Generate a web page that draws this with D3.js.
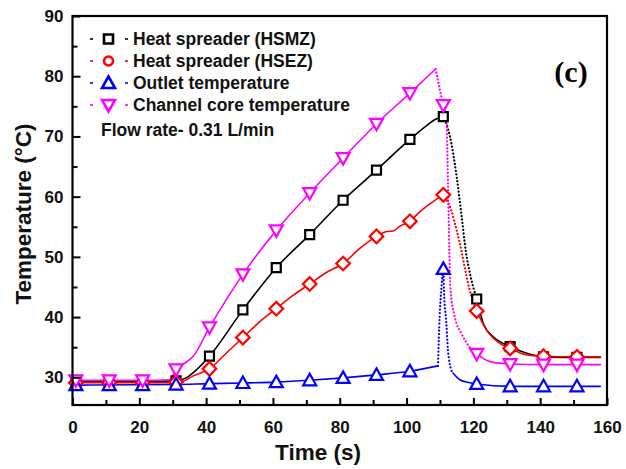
<!DOCTYPE html>
<html>
<head>
<meta charset="utf-8">
<script src="https://cdn.jsdelivr.net/npm/d3@7"></script>
<style>
  body { margin: 0; background: #fff; }
  svg text { font-family: "Liberation Sans", Arial, sans-serif; }
</style>
</head>
<body>
<svg id="chart" width="626" height="469"></svg>
<script>
// marker times (s)
const markerTimes = [1, 11, 21, 31, 41, 51, 61, 71, 81, 91, 101, 111, 121, 131, 141, 151];
// marker values (deg C)
const hsmzMarks = [29.3, 29.3, 29.3, 29.4, 33.5, 41.2, 48.2, 53.7, 59.4, 64.4, 69.5, 73.3, 43.0, 35.1, 33.4, 33.3];
const hsezMarks = [29.1, 29.1, 29.1, 29.2, 31.4, 36.6, 41.4, 45.5, 48.9, 53.4, 55.9, 60.3, 41.0, 34.8, 33.5, 33.4];
const outletMarks = [28.7, 28.7, 28.7, 28.8, 28.95, 29.05, 29.2, 29.5, 29.9, 30.4, 31.0, 48.0, 28.9, 28.5, 28.5, 28.5];
const coreMarks = [29.5, 29.5, 29.5, 31.3, 38.3, 47.1, 54.4, 60.6, 66.4, 72.1, 77.2, 75.2, 33.9, 32.2, 32.1, 32.1];

// traces: heating (solid), drop (dotted), tail (solid)
const hsmzHeat = [[0,29.3],[11,29.3],[21,29.3],[31,29.4],[34,29.9],[37,31.2],[41,33.5],[51,41.2],[61,48.2],[71,53.7],[81,59.4],[91,64.4],[101,69.5],[106,71.8],[108.5,72.8],[111,73.3]];
const hsmzDrop = [[111,73.3],[113,70],[115,63.3],[116.5,56.7],[117.7,51.1],[119,47.2],[121,43.0]];
const hsmzTail = [[121,43.0],[123,38.9],[126,36.7],[129,35.6],[131,35.1],[136,34.0],[141,33.4],[151,33.3],[158,33.3]];

const hsezHeat = [[0,29.1],[31,29.1],[33,29.3],[36,30.2],[41,31.4],[46,34.0],[51,36.6],[56,39.2],[61,41.4],[66,43.6],[71,45.5],[76,47.4],[81,48.9],[86,51.4],[91,53.4],[94,54.2],[96,54.3],[98,55.1],[101,55.9],[104,57.5],[107,58.8],[109,59.6],[111,60.3]];
const hsezDrop = [[111,60.3],[113.4,57.7],[115,54.4],[116.4,51.1],[117.4,48.3],[118.9,44.5],[121,41.0]];
const hsezTail = [[121,41.0],[124,37.8],[128,35.6],[131,34.8],[136,33.7],[141,33.5],[151,33.4],[158,33.4]];

const outletHeat = [[0,28.7],[31,28.8],[41,28.95],[51,29.05],[61,29.2],[71,29.5],[81,29.9],[91,30.4],[101,31.0],[109.4,31.9]];
const outletDrop = [[109.4,31.9],[109.9,40.1],[110.4,44.5],[111,48.0],[111.2,44.5],[111.9,39.0],[112.4,34.5],[112.9,32.3],[113.9,30.7]];
const outletTail = [[113.9,30.7],[115.9,29.6],[118.9,29.1],[121,28.9],[131,28.5],[141,28.5],[151,28.5],[158,28.5]];

const coreHeat = [[0,29.5],[21,29.5],[29,29.6],[31,31.3],[34,32.5],[36,33.4],[41,38.3],[51,47.1],[61,54.4],[71,60.6],[81,66.4],[91,72.1],[101,77.2],[108.7,81.2]];
const coreDrop = [[108.7,81.2],[111,75.2],[111.9,73.3],[112.2,67.7],[112.4,62.2],[112.6,56.7],[112.8,51.1],[113.1,45.0],[114.4,40.1],[116.4,37.3],[118.9,35.0],[121,33.9]];
const coreTail = [[121,33.9],[125,32.6],[131,32.2],[141,32.1],[151,32.1],[158,32.1]];

const legendLabels = ['Heat spreader (HSMZ)', 'Heat spreader (HSEZ)', 'Outlet temperature', 'Channel core temperature'];
const xTicks = [0, 20, 40, 60, 80, 100, 120, 140, 160];
const yTicks = [30, 40, 50, 60, 70, 80, 90];

const svg = d3.select('#chart');
const x = d3.scaleLinear().domain([0, 160]).range([72.5, 607]);
const y = d3.scaleLinear().domain([25.4, 90]).range([405, 16]);

// symbol paths, centred at 0,0
function shape(kind) {
  if (kind === 'square') return 'M-4.5,-4.5H4.5V4.5H-4.5Z';
  if (kind === 'diamond') return 'M0,-6.8L6.8,0L0,6.8L-6.8,0Z';
  if (kind === 'circle') return d3.symbol(d3.symbolCircle, 64)();
  if (kind === 'up') return 'M0,-6.5L6.5,5L-6.5,5Z';
  return 'M0,6.5L6.5,-5L-6.5,-5Z';
}

const series = [
  { color: '#000000', marks: hsmzMarks, parts: [hsmzHeat, hsmzDrop, hsmzTail], sym: 'square', legendSym: 'square' },
  { color: '#ff0000', marks: hsezMarks, parts: [hsezHeat, hsezDrop, hsezTail], sym: 'diamond', legendSym: 'circle' },
  { color: '#0000ff', marks: outletMarks, parts: [outletHeat, outletDrop, outletTail], sym: 'up', legendSym: 'up' },
  { color: '#ff00ff', marks: coreMarks, parts: [coreHeat, coreDrop, coreTail], sym: 'down', legendSym: 'down' }
];

const line = d3.line().x(d => x(d[0])).y(d => y(d[1])).curve(d3.curveMonotoneX);

const plot = svg.append('g');
series.forEach(s => {
  s.parts.forEach((p, i) => {
    plot.append('path')
      .attr('d', line(p))
      .attr('fill', 'none')
      .attr('stroke', s.color)
      .attr('stroke-width', i === 1 ? 2.2 : 1.6)
      .attr('stroke-linecap', 'round')
      .attr('stroke-dasharray', i === 1 ? '0.1,3.4' : null);
  });
});
series.forEach(s => {
  plot.selectAll(null)
    .data(markerTimes.map((t, i) => [t, s.marks[i]]))
    .enter()
    .append('path')
    .attr('transform', d => `translate(${x(d[0])},${y(d[1])})`)
    .attr('d', shape(s.sym))
    .attr('fill', '#fff')
    .attr('stroke', s.color)
    .attr('stroke-width', 2.2);
});

// axes, ticks inward
svg.append('g').attr('transform', 'translate(0,405)')
  .call(d3.axisBottom(x).tickValues(xTicks).tickSize(-7).tickPadding(16).tickFormat(d3.format('d')));
svg.append('g').attr('transform', 'translate(0,405)')
  .call(d3.axisBottom(x).tickValues(d3.range(10, 160, 20)).tickSize(-5).tickFormat(''));
svg.append('g').attr('transform', 'translate(72.5,0)')
  .call(d3.axisLeft(y).tickValues(yTicks).tickSize(-8).tickPadding(9));
svg.append('g').attr('transform', 'translate(72.5,0)')
  .call(d3.axisLeft(y).tickValues(d3.range(35, 90, 10)).tickSize(-5).tickFormat(''));
svg.selectAll('.domain').remove();
svg.selectAll('.tick line').attr('stroke', '#000').attr('stroke-width', 2);
svg.selectAll('.tick text').attr('font-size', 17).attr('font-weight', 'bold').attr('fill', '#111');

// frame
svg.append('rect').attr('x', 72.5).attr('y', 16).attr('width', 607 - 72.5).attr('height', 405 - 16)
  .attr('fill', 'none').attr('stroke', '#000').attr('stroke-width', 2.2);

// axis titles
svg.append('text').attr('x', 318).attr('y', 460).attr('text-anchor', 'middle')
  .attr('font-size', 22.5).attr('font-weight', 'bold').attr('fill', '#111').text('Time (s)');
svg.append('text').attr('transform', 'translate(31,214) rotate(-90)').attr('text-anchor', 'middle')
  .attr('font-size', 22.5).attr('font-weight', 'bold').attr('fill', '#111').text('Temperature (°C)');

// legend
const lg = svg.append('g');
legendLabels.forEach((lab, i) => {
  const s = series[i];
  const ly = 39 + i * 22;
  [91.5, 126.5].forEach(cx => {
    lg.append('line').attr('x1', cx - 1.5).attr('x2', cx + 1.5).attr('y1', ly).attr('y2', ly)
      .attr('stroke', s.color).attr('stroke-width', 1.6);
  });
  lg.append('path').attr('transform', `translate(108.5,${ly})`).attr('d', shape(s.legendSym))
    .attr('fill', '#fff').attr('stroke', s.color).attr('stroke-width', 2.6);
  lg.append('text').attr('x', 133).attr('y', ly + 6).attr('font-size', 17.5)
    .attr('font-weight', 'bold').attr('fill', '#111').text(lab);
});
svg.append('text').attr('x', 101).attr('y', 136).attr('font-size', 17.5).attr('font-weight', 'bold')
  .attr('fill', '#111').text('Flow rate- 0.31 L/min');

svg.append('text').attr('x', 571).attr('y', 82).attr('text-anchor', 'middle')
  .style('font-family', '"Liberation Serif", "Times New Roman", serif')
  .attr('font-size', 30).attr('font-weight', 'bold').text('(c)');
</script>
</body>
</html>
